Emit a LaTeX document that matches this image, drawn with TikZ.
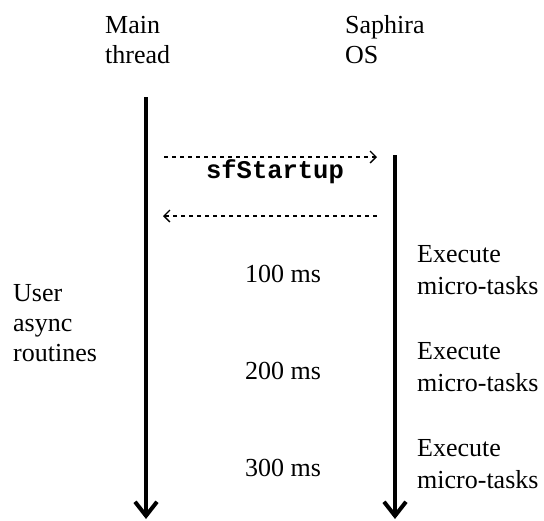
\documentclass[tikz,border=0pt]{standalone}
\usepackage{fontspec}
\setmainfont{Liberation Serif}
\setmonofont{Liberation Mono}
\usetikzlibrary{arrows.meta,positioning}

\begin{document}
\begin{tikzpicture}[
    x=1pt, y=-1pt,
    label_style/.style={anchor=base west, inner sep=0pt, align=left,
        font=\fontsize{26}{30}\selectfont},
    step_label_style/.style={label_style, font=\fontsize{26}{32}\selectfont},
    time_label_style/.style={anchor=base, inner sep=0pt,
        font=\fontsize{26}{30}\selectfont},
    lifeline_style/.style={line width=4pt, -{Straight Barb[length=14pt, width=22pt]}},
    msg_style/.style={line width=1.3pt, dash pattern=on 4pt off 4pt,
        -{Straight Barb[length=6pt, width=12pt]}}
]
\useasboundingbox (0,0) rectangle (544,520);

% Headers (base = last line)
\node[label_style] (main_lbl) at (105,63) {Main\\thread};
\node[label_style] (os_lbl) at (345,63) {Saphira\\OS};

% Lifelines
\coordinate (main_top) at (146,97);
\coordinate (main_end) at (146,519);
\coordinate (os_top) at (395,155);
\coordinate (os_end) at (395,519);
\draw[lifeline_style] (main_top) -- (main_end);
\draw[lifeline_style] (os_top) -- (os_end);

% Startup call and return
\coordinate (call_from) at (164,157);
\coordinate (call_to) at (377,157);
\coordinate (ret_from) at (377,216);
\coordinate (ret_to) at (163,216);
\draw[msg_style] (call_from) -- (call_to);
\node[time_label_style, font=\fontsize{25.5}{30}\selectfont\ttfamily\bfseries]
    (startup_lbl) at (275,178) {sfStartup};
\draw[msg_style] (ret_from) -- (ret_to);

% Left side
\node[label_style] (user_lbl) at (13,361) {User\\async\\routines};

% Ticks and tasks
\foreach \t/\y [count=\i] in {100/282, 200/379, 300/476} {
    \node[time_label_style] (time\i) at (283,\y) {\t\ ms};
    \node[step_label_style] (task\i) at (417,\y+12) {Execute\\micro-tasks};
}

\end{tikzpicture}
\end{document}
